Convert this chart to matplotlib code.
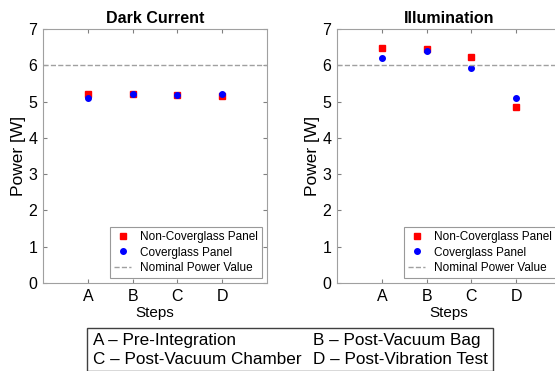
import matplotlib.pyplot as plt
from matplotlib.patches import Rectangle

plt.rcParams['font.family'] = ['Liberation Sans', 'DejaVu Sans']

steps = ['A', 'B', 'C', 'D']
dark_noncov = [5.20, 5.20, 5.18, 5.15]
dark_cov = [5.09, 5.21, 5.19, 5.20]
illum_noncov = [6.48, 6.45, 6.23, 4.86]
illum_cov = [6.20, 6.38, 5.92, 5.10]
nominal = 6
step_notes = [['A – Pre-Integration', 'B – Post-Vacuum Bag'],
              ['C – Post-Vacuum Chamber', 'D – Post-Vibration Test']]

W, H = 555, 371
fig = plt.figure(figsize=(W / 100, H / 100), dpi=100)

panels = [
    ('Dark Current', dark_noncov, dark_cov, 43),
    ('Illumination', illum_noncov, illum_cov, 337),
]

x = [1, 2, 3, 4]
for title, noncov, cov, left in panels:
    ax = fig.add_axes([left / W, 1 - 283 / H, 224 / W, 254 / H])
    ax.plot(x, noncov, 's', color='#ff0000', ms=5, label='Non-Coverglass Panel')
    ax.plot(x, cov, 'o', color='#0000ff', ms=4, label='Coverglass Panel')
    ax.axhline(nominal, color='#a0a0a0', ls='--', lw=1, label='Nominal Power Value')
    ax.set_xlim(0, 5)
    ax.set_ylim(0, 7)
    ax.set_xticks(x)
    ax.set_xticklabels(steps)
    ax.set_yticks(range(0, 8))
    ax.tick_params(direction='in', top=True, right=True, labelsize=11.5,
                   color='#808080', length=3, pad=4)
    for s in ax.spines.values():
        s.set_color('#a0a0a0')
    ax.set_title(title, fontsize=11.5, fontweight='bold', pad=4)
    ax.set_xlabel('Steps', fontsize=11, labelpad=2)
    ax.set_ylabel('Power [W]', fontsize=12.5, labelpad=2)
    leg = ax.legend(loc='lower right', fontsize=8.5, borderaxespad=0.4,
                    fancybox=False, handlelength=1.4, handletextpad=0.8,
                    labelspacing=0.3, borderpad=0.35)
    leg.get_frame().set_edgecolor('#808080')
    leg.get_frame().set_linewidth(0.8)

fig.patches.append(Rectangle((87 / W, 0), (493 - 87) / W, 1 - 328 / H,
                             transform=fig.transFigure, fill=False,
                             edgecolor='#404040', lw=1))
for i, row in enumerate(step_notes):
    y = 1 - (340 + 19 * i) / H
    fig.text(93 / W, y, row[0], fontsize=12.3, va='center')
    fig.text(313 / W, y, row[1], fontsize=12.3, va='center')

fig.savefig('out.png', dpi=100)
